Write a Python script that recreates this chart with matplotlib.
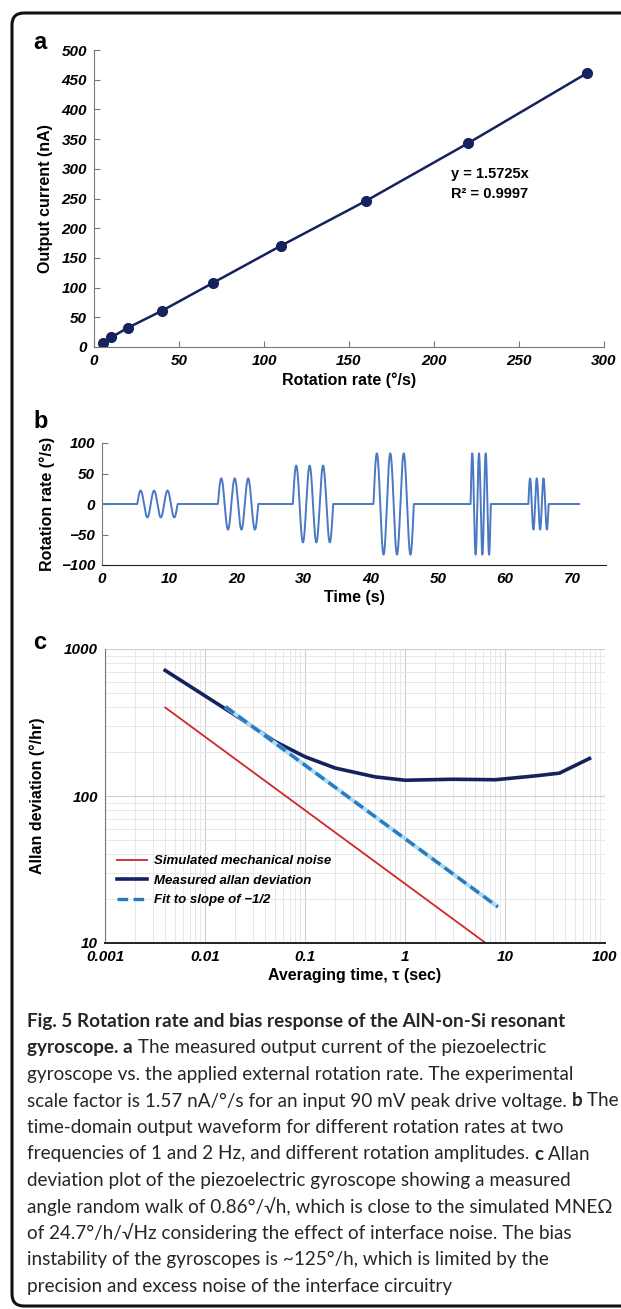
"""Gyroscope scale factor, waveform and Allan deviation figure."""

import matplotlib

matplotlib.use("Agg")
import matplotlib.pyplot as plt
import numpy as np
from matplotlib.font_manager import FontProperties
from matplotlib.patches import FancyBboxPatch

# panel a: output current vs rotation rate
rate_dps = [5, 10, 20, 40, 70, 110, 160, 220, 290]
current_na = [7, 16, 32.5, 61, 108, 170.5, 246, 343, 461]

# panel b: sinusoidal rotation bursts (3 cycles each)
burst_start_s = [5.25, 17.25, 28.4, 40.4, 54.85, 63.45]
burst_amp_dps = [22, 42, 63, 83, 83, 42]
burst_freq_hz = [0.5, 0.5, 0.5, 0.5, 1.0, 1.0]
record_end_s = 71.0

# panel c: Allan deviation
tau_measured = [0.004, 0.01, 0.02, 0.05, 0.1, 0.2, 0.5, 1, 3, 8, 20, 35, 70]
adev_measured = [715, 480, 355, 235, 185, 155, 135, 128, 130, 129, 137, 143, 180]
tau_sim = [0.004, 6.4]
adev_sim = [400, 10]
tau_fit = [0.016, 8.5]
adev_fit = [405, 17.6]

caption_lines = [
    [("Fig. 5 Rotation rate and bias response of the AlN-on-Si resonant", "bold")],
    [("gyroscope. a", "bold"), (" The measured output current of the piezoelectric", "normal")],
    [("gyroscope vs. the applied external rotation rate. The experimental", "normal")],
    [("scale factor is 1.57 nA/°/s for an input 90 mV peak drive voltage. ", "normal"),
     ("b", "bold"), (" The", "normal")],
    [("time-domain output waveform for different rotation rates at two", "normal")],
    [("frequencies of 1 and 2 Hz, and different rotation amplitudes. ", "normal"),
     ("c", "bold"), (" Allan", "normal")],
    [("deviation plot of the piezoelectric gyroscope showing a measured", "normal")],
    [("angle random walk of 0.86°/√h, which is close to the simulated MNEΩ", "normal")],
    [("of 24.7°/h/√Hz considering the effect of interface noise. The bias", "normal")],
    [("instability of the gyroscopes is ~125°/h, which is limited by the", "normal")],
    [("precision and excess noise of the interface circuitry", "normal")],
]

W, H = 621, 1309
NAVY = "#15225e"
TICK_FONT = FontProperties(family="Liberation Sans", weight="bold", style="italic", size=11)
LABEL_FONT = dict(family="Liberation Sans", weight="bold", size=11.5)

plt.rcParams["font.family"] = ["Liberation Sans", "DejaVu Sans"]


def px_axes(fig, left, top, right, bottom):
    return fig.add_axes([left / W, 1 - bottom / H, (right - left) / W, (bottom - top) / H])


fig = plt.figure(figsize=(W / 100, H / 100), dpi=100)

# rounded frame, open on the right edge
frame_ax = fig.add_axes([0, 0, 1, 1])
frame_ax.set_xlim(0, W)
frame_ax.set_ylim(H, 0)
frame_ax.axis("off")
frame_ax.add_patch(FancyBboxPatch((12, 13), 660, 1293, boxstyle="round,pad=0,rounding_size=12",
                                  fill=False, lw=2.2, ec="#111111"))

# ---- panel a
ax_a = px_axes(fig, 94, 50, 604, 347)
ax_a.plot(rate_dps, current_na, "-o", color=NAVY, lw=1.8, ms=7)
ax_a.set_xlim(0, 300)
ax_a.set_ylim(0, 500)
ax_a.set_xticks(range(0, 301, 50))
ax_a.set_yticks(range(0, 501, 50))
ax_a.text(210, 284, "y = 1.5725x", fontsize=10.5, fontweight="bold")
ax_a.text(210, 251, "R² = 0.9997", fontsize=10.5, fontweight="bold")
ax_a.set_xlabel("Rotation rate (°/s)", labelpad=3, **LABEL_FONT)
ax_a.set_ylabel("Output current (nA)", labelpad=6, **LABEL_FONT)

# ---- panel b
t = np.linspace(0, record_end_s, 8000)
signal = np.zeros_like(t)
for start, amp, freq in zip(burst_start_s, burst_amp_dps, burst_freq_hz):
    inside = (t >= start) & (t <= start + 3 / freq)
    signal[inside] = amp * np.sin(2 * np.pi * freq * (t[inside] - start))

ax_b = px_axes(fig, 102, 443, 606, 565)
ax_b.plot(t, signal, color="#4a78c2", lw=1.4)
ax_b.set_xlim(0, 75)
ax_b.set_ylim(-100, 100)
ax_b.set_xticks(range(0, 71, 10))
ax_b.set_yticks([100, 50, 0, -50, -100])
ax_b.set_xlabel("Time (s)", labelpad=3, **LABEL_FONT)
ax_b.set_ylabel("Rotation rate (°/s)", labelpad=4, **LABEL_FONT)

# ---- panel c
ax_c = px_axes(fig, 105, 649, 605, 943)
ax_c.set_xscale("log")
ax_c.set_yscale("log")
ax_c.grid(which="major", color="#cfcfcf", lw=0.8)
ax_c.grid(which="minor", color="#e4e4e4", lw=0.6)
ax_c.plot(tau_sim, adev_sim, color="#d0262b", lw=1.3, label="Simulated mechanical noise")
ax_c.plot(tau_measured, adev_measured, color=NAVY, lw=2.6, label="Measured allan deviation")
ax_c.plot(tau_fit, adev_fit, color="#a8dcf2", lw=3.0, solid_capstyle="butt")
ax_c.plot(tau_fit, adev_fit, color="#2a78bd", lw=2.4, ls=(0, (3.2, 1.6)),
          label="Fit to slope of \u22121/2")
ax_c.set_xlim(0.001, 100)
ax_c.set_ylim(10, 1000)
ax_c.set_xticks([0.001, 0.01, 0.1, 1, 10, 100])
ax_c.set_xticklabels(["0.001", "0.01", "0.1", "1", "10", "100"])
ax_c.set_yticks([10, 100, 1000])
ax_c.set_yticklabels(["10", "100", "1000"])
ax_c.tick_params(which="minor", length=0)
ax_c.set_xlabel("Averaging time, τ (sec)", labelpad=3, **LABEL_FONT)
ax_c.set_ylabel("Allan deviation (°/hr)", labelpad=14, **LABEL_FONT)
ax_c.legend(loc="upper left", bbox_to_anchor=(0.0, 0.34), frameon=False,
            handlelength=2.3, labelspacing=0.55, handletextpad=0.5,
            prop=dict(family="Liberation Sans", weight="bold", style="italic", size=9.5))

for ax in (ax_a, ax_b, ax_c):
    ax.spines["top"].set_visible(False)
    ax.spines["right"].set_visible(False)
    ax.spines["left"].set_color("#777777")
    ax.spines["bottom"].set_color("#222222")
    ax.tick_params(which="major", direction="in", length=4, pad=5, color="#777777")
    for lab in ax.get_xticklabels() + ax.get_yticklabels():
        lab.set_fontproperties(TICK_FONT)
ax_a.spines["bottom"].set_color("#777777")
ax_b.tick_params(axis="x", length=0)
ax_c.tick_params(which="major", length=0)
ax_c.spines["bottom"].set_linewidth(1.4)

# panel letters
for letter, y_px in (("a", 49), ("b", 428), ("c", 649)):
    fig.text(33 / W, 1 - y_px / H, letter, fontsize=17, fontweight="bold", va="baseline")

# caption: segments of one line are chained left to right,
# size chosen so the widest line fills the frame like the original
cap_font = ["Lato", "DejaVu Sans"]
renderer = fig.canvas.get_renderer()


def layout_caption(size):
    artists, widest = [], 0.0
    for i, segments in enumerate(caption_lines):
        y_frac = 1 - (1027 + i * 26.5) / H
        x_px = 27
        for seg, weight in segments:
            tx = fig.text(x_px / W, y_frac, seg, family=cap_font, fontweight=weight,
                          fontsize=size, va="baseline", color="#262626")
            artists.append(tx)
            x_px = tx.get_window_extent(renderer).x1
        widest = max(widest, x_px - 27)
    return artists, widest


trial, widest = layout_caption(13.0)
for tx in trial:
    tx.remove()
layout_caption(13.0 * 590 / widest)

fig.savefig("out.png", dpi=100)
